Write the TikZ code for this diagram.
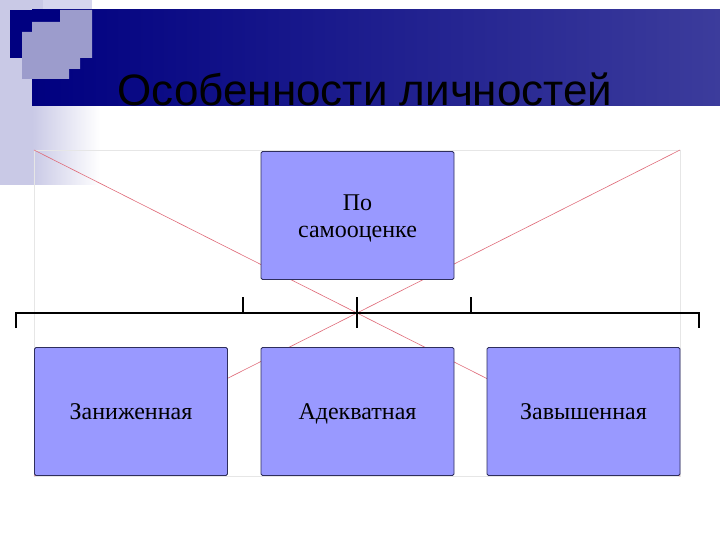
\documentclass[tikz,border=0pt]{standalone}
\usepackage{fontspec}
\setmainfont{Liberation Serif}
\newfontfamily\titlefont{Liberation Sans}
\newcommand{\bxstrut}{\rule[-5pt]{0pt}{26pt}}
\begin{document}
\begin{tikzpicture}[x=1pt,y=-1pt,
  box/.style={draw=boxline, fill=boxfill, line width=0.9pt, rounded corners=1.5pt,
    minimum width=193pt, minimum height=128pt, inner sep=0pt, align=center,
    font=\fontsize{24}{27}\selectfont, text=black},
  redline/.style={draw=redl, line width=0.6pt},
  brace/.style={draw=black, line width=2.2pt}]
\definecolor{boxfill}{HTML}{9999FF}
\definecolor{boxline}{HTML}{2E2E5C}
\definecolor{redl}{HTML}{E06A78}
\definecolor{stripc}{HTML}{C9C9E6}
\definecolor{paletop}{HTML}{D6D6EE}
\definecolor{navyL}{HTML}{000080}
\definecolor{navyR}{HTML}{3C3C9C}
\definecolor{lightsq}{HTML}{9C9CCC}
\definecolor{framec}{HTML}{E6E6E6}
\useasboundingbox (0,0) rectangle (720,540);
\fill[white] (0,0) rectangle (720,540);
% left strip with fade
\fill[stripc] (0,0) rectangle (32,185);
\shade[left color=stripc, right color=white] (32,10) rectangle (100,185);
\fill[paletop] (43,0) rectangle (92,10);
\fill[stripc] (0,0) rectangle (43,10);
% banner
\shade[left color=navyL, right color=navyR] (32,10) rectangle (720,106);
\fill[navyL] (10,10) rectangle (60,58);
\fill[lightsq] (32,22) -- (60,22) -- (60,10) -- (92,10) -- (92,58) -- (80,58) -- (80,69)
  -- (69,69) -- (69,79) -- (22,79) -- (22,32) -- (32,32) -- cycle;
% title
\node[anchor=base, font=\titlefont\fontsize{44}{48}\selectfont, text=black, inner sep=0pt]
  (title) at (365,106) {Особенности личностей};
% frame
\draw[framec, line width=0.6pt] (34,150) rectangle (680,476);
\coordinate (tl) at (34,150);
\coordinate (tr) at (680,150);
\coordinate (bl) at (34,476);
\coordinate (br) at (680,476);
\draw[redline] (tl) -- (br);
\draw[redline] (tr) -- (bl);
% boxes
\node[box] (top) at (357.5,215.5) {\bxstrut По\\\bxstrut самооценке};
\node[box] (low) at (131,411.5) {\bxstrut Заниженная};
\node[box] (adq) at (357.5,411.5) {\bxstrut Адекватная};
\node[box] (high) at (583.5,411.5) {\bxstrut Завышенная};
% bracket
\coordinate (bL) at (16,313);
\coordinate (bR) at (699,313);
\coordinate (bLd) at (16,328);
\coordinate (bRd) at (699,328);
\coordinate (cu) at (357,297);
\coordinate (cd) at (357,328);
\coordinate (t1) at (243,297);
\coordinate (t1b) at (243,313);
\coordinate (t2) at (471,297);
\coordinate (t2b) at (471,313);
\draw[brace] (bLd) -- (bL) -- (bR) -- (bRd);
\draw[brace] (cu) -- (cd);
\draw[brace] (t1) -- (t1b);
\draw[brace] (t2) -- (t2b);
\end{tikzpicture}
\end{document}
